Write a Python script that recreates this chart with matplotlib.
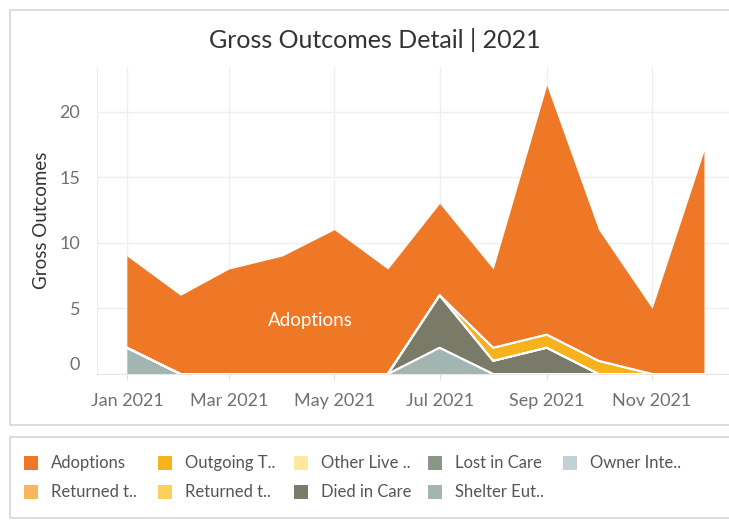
import numpy as np
import matplotlib.pyplot as plt
import matplotlib.dates as mdates
import matplotlib.transforms as mtransforms
from matplotlib.patches import Rectangle

plt.rcParams['font.family'] = ['Lato', 'DejaVu Sans']

# ==========================
# Data
# ==========================
months = np.array(['2021-01-01', '2021-02-01', '2021-03-01', '2021-04-01',
                   '2021-05-01', '2021-06-01', '2021-07-01', '2021-08-01',
                   '2021-09-01', '2021-10-01', '2021-11-01', '2021-12-01'],
                  dtype='datetime64[D]')

adoptions       = [7, 6, 8, 9, 11, 8, 7, 6, 19, 10, 5, 17]
returned_1      = [0] * 12
outgoing        = [0, 0, 0, 0, 0, 0, 0, 1, 1, 1, 0, 0]
returned_2      = [0] * 12
other_live      = [0] * 12
died_in_care    = [0, 0, 0, 0, 0, 0, 4, 1, 2, 0, 0, 0]
lost_in_care    = [0] * 12
shelter_eut     = [2, 0, 0, 0, 0, 0, 2, 0, 0, 0, 0, 0]
owner_intent    = [0] * 12

# legend order (column-major, as shown)
legend_names = ["Adoptions", "Returned t..", "Outgoing T..", "Returned t..",
                "Other Live ..", "Died in Care", "Lost in Care",
                "Shelter Eut..", "Owner Inte.."]
legend_series = [adoptions, returned_1, outgoing, returned_2, other_live,
                 died_in_care, lost_in_care, shelter_eut, owner_intent]
legend_colors = ["#EF7826", "#F5B65C", "#F8B21D", "#FBD05C", "#FFE8A0",
                 "#7A7A68", "#8A9786", "#A2B5B1", "#C2D1D6"]

tick_months = months[::2]
tick_labels = ["Jan 2021", "Mar 2021", "May 2021", "Jul 2021", "Sep 2021", "Nov 2021"]

# ==========================
# Figure
# ==========================
W, H = 729, 525
fig = plt.figure(figsize=(W / 100, H / 100), dpi=100)

# outer frames
fig.patches.append(Rectangle((10 / W, 1 - 425 / H), 730 / W, 415 / H,
                             transform=fig.transFigure, fill=False,
                             edgecolor="#d6d6d6", linewidth=1.2))
fig.patches.append(Rectangle((10 / W, 1 - 518 / H), 730 / W, 81 / H,
                             transform=fig.transFigure, fill=False,
                             edgecolor="#d6d6d6", linewidth=1.2))

ax = fig.add_axes([97 / W, 1 - 374 / H, (729 - 97) / W, (374 - 67) / H])

# stack bottom -> top (reverse of legend order)
stack = legend_series[::-1]
stack_colors = legend_colors[::-1]
base = np.zeros(len(months))
tops = []
for vals, col in zip(stack, stack_colors):
    top = base + np.array(vals)
    ax.fill_between(months, base, top, color=col, linewidth=0, zorder=2)
    tops.append(top)
    base = top

# white separator lines between layers
for top in tops[:-1]:
    if top.max() > 0:
        ax.plot(months, top, color="white", linewidth=1.4, zorder=3)

ax.text(np.datetime64('2021-04-17'), 4.1, "Adoptions", color="white",
        fontsize=13.5, ha="center", va="center", zorder=4)

x0 = np.datetime64('2021-01-01')
ax.set_xlim(mdates.date2num(x0) - 17.3, mdates.date2num(x0) + 348.5)
ax.set_ylim(0, 23.4)

ax.set_xticks(tick_months)
ax.set_xticklabels(tick_labels)
ax.set_yticks([0, 5, 10, 15, 20])
ax.set_yticklabels(["0", "5", "10", "15", "20"])

ax.grid(True, color="#efefef", linewidth=1)
ax.set_axisbelow(True)
for s in ["top", "right"]:
    ax.spines[s].set_visible(False)
ax.spines["left"].set_color("#eeeeee")
ax.spines["bottom"].set_color("#e6e6e6")
ax.tick_params(axis="x", colors="#e0e0e0", labelcolor="#707070",
               labelsize=13, length=4, pad=10)
ax.tick_params(axis="y", length=0, labelcolor="#707070", labelsize=13, pad=12)
# Tableau nudges the zero label up off the baseline
zero_lbl = ax.get_yticklabels()[0]
zero_lbl.set_transform(zero_lbl.get_transform() +
                       mtransforms.ScaledTranslation(0, 10 / 100, fig.dpi_scale_trans))
ax.set_ylabel("Gross Outcomes", fontsize=13.5, color="#333333", labelpad=7)

fig.text(375 / W, 1 - 40 / H, "Gross Outcomes Detail | 2021", fontsize=18,
         color="#333333", ha="center", va="center")

# ==========================
# Legend
# ==========================
col_x = [24, 158, 294, 428, 563]
row_y = [463, 492]
for i, (name, col) in enumerate(zip(legend_names, legend_colors)):
    c, r = i // 2, i % 2
    fig.patches.append(Rectangle((col_x[c] / W, 1 - (row_y[r] + 7) / H),
                                 14 / W, 14 / H, transform=fig.transFigure,
                                 facecolor=col, edgecolor="none"))
    fig.text((col_x[c] + 27) / W, 1 - row_y[r] / H, name, fontsize=12,
             color="#555555", ha="left", va="center")

fig.savefig("out.png", dpi=100)
